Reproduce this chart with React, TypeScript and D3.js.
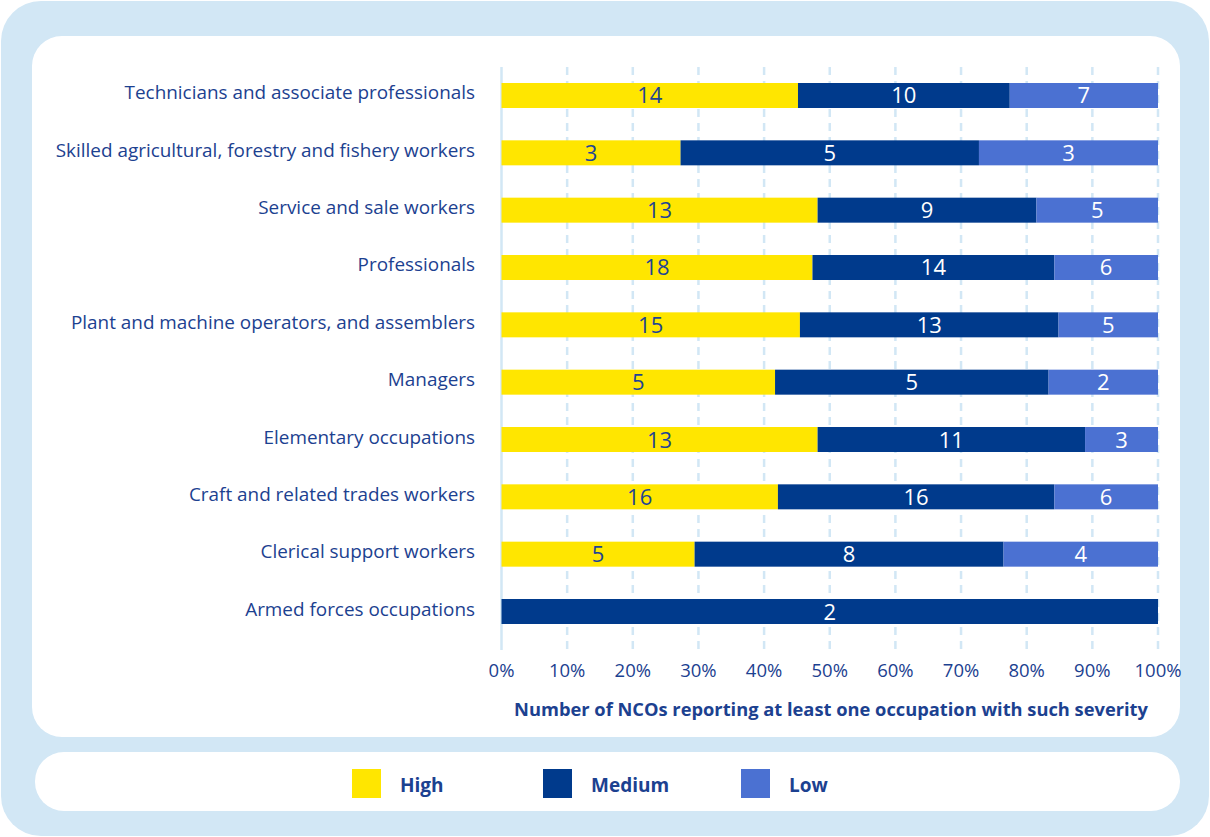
import React from "react";
import * as d3 from "d3";

const categories = [
  "Technicians and associate professionals",
  "Skilled agricultural, forestry and fishery workers",
  "Service and sale workers",
  "Professionals",
  "Plant and machine operators, and assemblers",
  "Managers",
  "Elementary occupations",
  "Craft and related trades workers",
  "Clerical support workers",
  "Armed forces occupations",
];
const high = [14, 3, 13, 18, 15, 5, 13, 16, 5, 0];
const medium = [10, 5, 9, 14, 13, 5, 11, 16, 8, 2];
const low = [7, 3, 5, 6, 5, 2, 3, 6, 4, 0];
const seriesKeys = ["High", "Medium", "Low"];
const tickValues = [0, 0.1, 0.2, 0.3, 0.4, 0.5, 0.6, 0.7, 0.8, 0.9, 1];
const axisTitle = "Number of NCOs reporting at least one occupation with such severity";

const COLORS: Record<string, string> = { High: "#ffe600", Medium: "#003a8c", Low: "#4b71d2" };
const LABEL_COLORS: Record<string, string> = { High: "#1e4494", Medium: "#ffffff", Low: "#ffffff" };
const TEXT = "#1c4190";
const FRAME = "#d2e7f5";
const FONT = "'Open Sans', 'Noto Sans', sans-serif";

export default function App() {
  const W = 1210, H = 837;
  const rows = categories.map((c, i) => ({ cat: c, High: high[i], Medium: medium[i], Low: low[i] }));
  const stack = d3.stack<any>().keys(seriesKeys).offset(d3.stackOffsetExpand);
  const stacked = stack(rows);

  const x = d3.scaleLinear().domain([0, 1]).range([501.5, 1158]);
  const y = d3.scaleBand<string>().domain(categories).range([83, 624]).paddingInner(0.564).paddingOuter(0);
  const bw = y.bandwidth();

  const legendX = [352, 543, 741];

  return (
    <svg width={W} height={H} style={{ position: "absolute", left: 0, top: 0, display: "block" }} fontFamily={FONT}>
      <rect x={0} y={0} width={W} height={H} fill="#ffffff" />
      <rect x={1} y={1} width={1208} height={835} rx={40} ry={40} fill={FRAME} />
      <rect x={32} y={36} width={1148} height={701} rx={30} ry={30} fill="#ffffff" />
      <rect x={35} y={752} width={1145} height={59} rx={29} ry={29} fill="#ffffff" />

      {/* gridlines */}
      {tickValues.map((t) =>
        t === 0 ? (
          <line key={t} x1={x(t)} x2={x(t)} y1={67} y2={650} stroke={FRAME} strokeWidth={2.5} />
        ) : (
          <line key={t} x1={x(t)} x2={x(t)} y1={67} y2={650} stroke={FRAME} strokeWidth={2.5} strokeDasharray="8 6" />
        )
      )}

      {/* bars */}
      {stacked.map((s) => (
        <g key={s.key}>
          {s.map((d, i) => {
            const v = (rows[i] as any)[s.key];
            if (!v) return null;
            const x0 = x(d[0]);
            const x1 = x(d[1]);
            const yy = y(rows[i].cat)!;
            return (
              <g key={i}>
                <rect x={x0} y={yy} width={x1 - x0} height={bw} fill={COLORS[s.key]} />
                <text
                  x={(x0 + x1) / 2}
                  y={yy + bw / 2 + 8}
                  textAnchor="middle"
                  fontSize={22}
                  fill={LABEL_COLORS[s.key]}
                >
                  {v}
                </text>
              </g>
            );
          })}
        </g>
      ))}

      {/* category labels */}
      {categories.map((c) => (
        <text key={c} x={475} y={y(c)! + bw / 2 + 4} textAnchor="end" fontSize={18.9} fill={TEXT}>
          {c}
        </text>
      ))}

      {/* ticks */}
      {tickValues.map((t) => (
        <text key={t} x={x(t)} y={677} textAnchor="middle" fontSize={18.5} fill={TEXT}>
          {d3.format(".0%")(t)}
        </text>
      ))}

      <text x={831} y={716} textAnchor="middle" fontSize={18.3} fontWeight="bold" fill={TEXT}>
        {axisTitle}
      </text>

      {/* legend */}
      {seriesKeys.map((k, i) => (
        <g key={k}>
          <rect x={legendX[i]} y={769} width={29} height={29} fill={COLORS[k]} />
          <text x={legendX[i] + 48} y={792} fontSize={19} fontWeight="bold" fill={TEXT}>
            {k}
          </text>
        </g>
      ))}
    </svg>
  );
}
